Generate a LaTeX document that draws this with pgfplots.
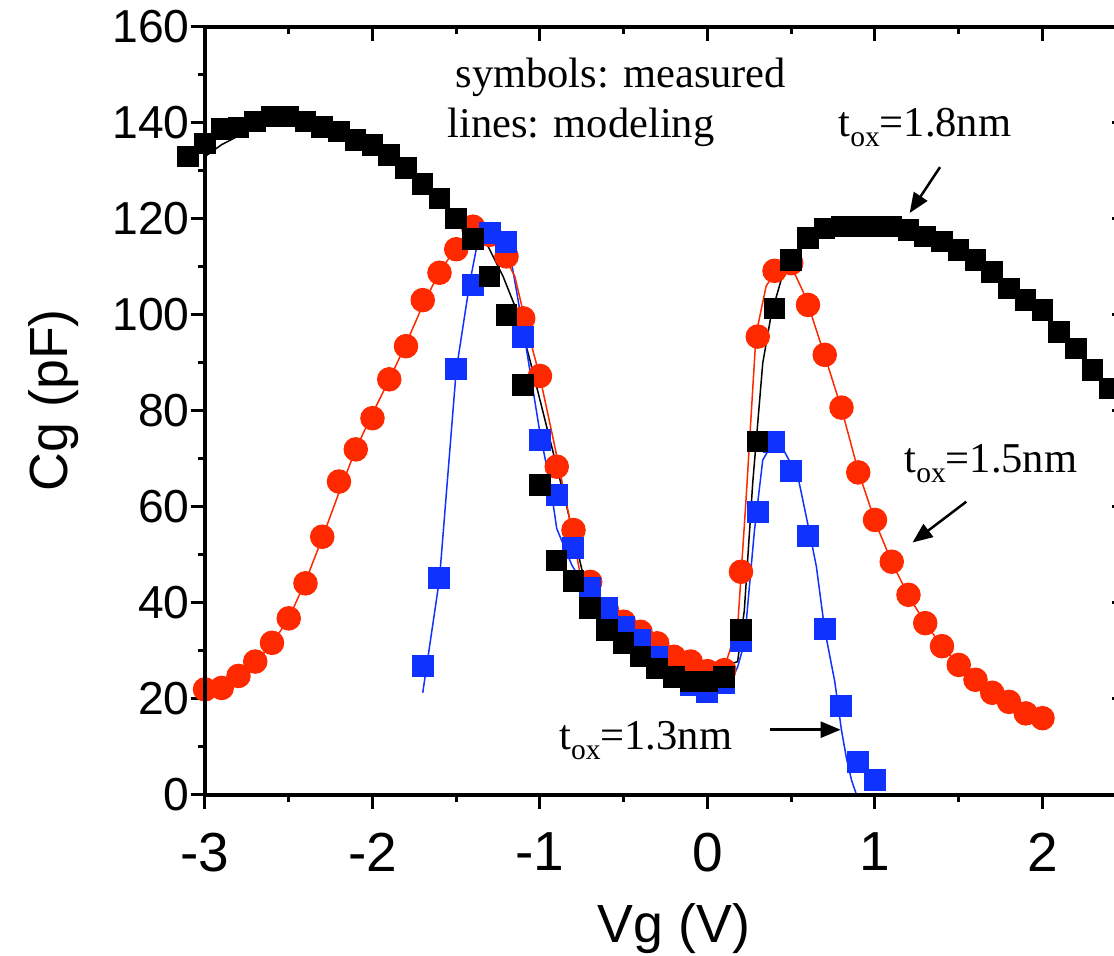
\documentclass[border=0pt]{standalone}
\usepackage{pgfplots}
\pgfplotsset{compat=1.18}
\usepackage{fontspec}
\setmainfont{Liberation Sans}
\newfontfamily\serif{Liberation Serif}
\usetikzlibrary{arrows.meta}
\definecolor{myred}{RGB}{255,41,0}
\definecolor{myblue}{RGB}{15,50,255}
\newcommand{\tox}{t\raisebox{-4pt}{\fontsize{11.8}{12}\selectfont ox}}
\begin{document}
\begin{tikzpicture}
\begin{axis}[
  scale only axis, width=368.5pt, height=307.2pt,
  xmin=-3, xmax=2.5, ymin=0, ymax=160,
  clip=false,
  xtick={-3,-2,-1,0,1,2}, xticklabels={-3,-2,-1,0,1,2},
  ytick={0,20,40,60,80,100,120,140,160},
  yticklabels={0,20,40,60,80,100,120,140,160},
  minor x tick num=1, minor y tick num=1,
  tick pos=left, tick align=outside,
  major tick length=5.6pt, minor tick length=2.8pt,
  tick style={black, line width=1.2pt},
  axis line style={line width=1.6pt},
  xticklabel style={font=\fontsize{22}{22}\selectfont, yshift=-6pt},
  yticklabel style={font=\fontsize{18.5}{18.5}\selectfont, xshift=3pt},
  xlabel={Vg (V)}, ylabel={Cg (pF)},
  label style={font=\fontsize{21.5}{22}\selectfont},
  xlabel style={at={(axis description cs:0.509,0)}, anchor=base, yshift=-59.2pt},
  ylabel style={at={(axis description cs:0,0.514)}, anchor=base, yshift=54.8pt},
]
\coordinate (BL) at (rel axis cs:0,0);
\coordinate (TL) at (rel axis cs:0,1);
% red circles (1.5 nm)
\addplot[only marks, mark=*, mark size=4.7pt, mark options={fill=myred, draw=myred}] coordinates {
(-3.0,22.0)(-2.9,22.3)(-2.8,24.8)(-2.7,27.8)(-2.6,31.7)(-2.5,36.8)(-2.4,44.1)(-2.3,53.8)(-2.2,65.3)(-2.1,72.0)
(-2.0,78.5)(-1.9,86.6)(-1.8,93.5)(-1.7,103.1)(-1.6,108.8)(-1.5,113.7)(-1.4,118.4)(-1.3,116.7)(-1.2,112.2)(-1.1,99.3)
(-1.0,87.3)(-0.9,68.4)(-0.8,55.2)(-0.7,44.4)(-0.6,38.5)(-0.5,36.1)(-0.4,34.0)(-0.3,31.6)(-0.2,28.8)(-0.1,27.8)
(0.0,25.8)(0.1,26.0)(0.2,46.5)(0.3,95.5)(0.4,109.2)(0.5,110.8)(0.6,102.1)(0.7,91.7)(0.8,80.7)(0.9,67.2)
(1.0,57.3)(1.1,48.6)(1.2,41.7)(1.3,35.8)(1.4,31.0)(1.5,27.1)(1.6,24.0)(1.7,21.3)(1.8,19.4)(1.9,17.0)(2.0,16.0)};
% blue squares (1.3 nm)
\addplot[only marks, mark=square*, mark size=4.2pt, mark options={fill=myblue, draw=myblue}] coordinates {
(-1.7,26.9)(-1.6,45.3)(-1.5,88.7)(-1.4,106.2)(-1.3,117.0)(-1.2,115.3)(-1.1,95.5)(-1.0,74.0)(-0.9,62.5)(-0.8,51.5)
(-0.7,43.2)(-0.6,39.0)(-0.5,35.0)(-0.4,32.3)(-0.3,28.8)(-0.2,24.6)(-0.1,22.9)(0.0,21.5)(0.1,23.3)(0.2,32.0)
(0.3,59.0)(0.4,73.6)(0.5,67.5)(0.6,53.9)(0.7,34.6)(0.8,18.6)(0.9,6.9)(1.0,3.1)};
% black squares (1.8 nm)
\addplot[only marks, mark=square*, mark size=4.1pt, mark options={fill=black, draw=black}] coordinates {
(-3.1,133.0)(-3.0,135.7)(-2.9,138.7)(-2.8,139.1)(-2.7,140.3)(-2.6,141.3)(-2.5,141.3)(-2.4,140.3)(-2.3,139.2)(-2.2,138.2)
(-2.1,136.5)(-2.0,135.4)(-1.9,133.3)(-1.8,130.6)(-1.7,127.3)(-1.6,124.3)(-1.5,120.1)(-1.4,115.8)(-1.3,108.0)(-1.2,100.0)
(-1.1,85.4)(-1.0,64.6)(-0.9,48.8)(-0.8,44.6)(-0.7,39.0)(-0.6,34.4)(-0.5,31.7)(-0.4,28.8)(-0.3,26.4)(-0.2,24.6)
(-0.1,23.6)(0.0,23.6)(0.1,24.6)(0.2,34.4)(0.3,73.6)(0.4,101.4)(0.5,111.5)(0.6,116.0)(0.7,118.0)(0.8,118.4)
(0.9,118.4)(1.0,118.4)(1.1,118.4)(1.2,117.7)(1.3,116.3)(1.4,115.3)(1.5,113.5)(1.6,111.5)(1.7,109.0)(1.8,105.5)
(1.9,103.1)(2.0,101.0)(2.1,96.5)(2.2,93.0)(2.3,88.5)(2.4,84.7)};
% model lines
\addplot[black, line width=0.6pt, no marks] coordinates {
(-3.0,133)(-2.9,135.5)(-2.8,137.3)(-2.7,139)(-2.6,140.3)(-2.5,141)(-2.4,140.5)(-2.3,139.5)(-2.2,138)(-2.1,136.5)
(-2.0,135)(-1.9,133)(-1.8,130.5)(-1.7,127.3)(-1.6,124)(-1.5,120.3)(-1.46,119.4)(-1.32,115)(-1.22,108)(-1.14,101)
(-1.06,90.6)(-0.98,79.5)(-0.9,68.4)(-0.84,60)(-0.725,43.4)(-0.61,37)(-0.45,32.5)(-0.29,29.5)(-0.1,26.7)(0.0,26)
(0.1,26.8)(0.18,27.8)(0.22,38.5)(0.27,65)(0.33,90)(0.38,100)(0.47,111)(0.55,113.5)(0.6,115.5)(0.7,117.5)
(0.8,118.2)(0.9,118.4)(1.0,118.4)(1.1,118)(1.2,117.3)(1.3,116)(1.4,114.8)(1.5,113.2)(1.6,111.2)(1.7,108.8)
(1.8,105.8)(1.9,103)(2.0,100.5)(2.1,96.5)(2.2,92.8)(2.3,88.5)(2.4,84.5)(2.5,80.5)};
\addplot[myblue, line width=0.6pt, no marks] coordinates {
(-1.70,21.3)(-1.6,45)(-1.5,88.5)(-1.42,106.6)(-1.37,115.6)(-1.32,117.8)(-1.26,116.3)(-1.18,112.8)(-1.14,105)(-1.08,92.7)
(-1.0,75.4)(-0.94,65)(-0.90,55.5)(-0.81,47.9)(-0.72,42.7)(-0.61,39.2)(-0.40,31.9)(-0.185,25)(0.0,22.6)(0.14,23.6)
(0.18,26.7)(0.22,31.6)(0.28,55)(0.33,69.8)(0.37,72.2)(0.46,71.5)(0.54,66.3)(0.61,54.6)(0.65,47.6)(0.70,34.4)
(0.76,23.6)(0.80,13.5)(0.83,7.6)(0.86,3.1)(0.89,0)};
\addplot[myred, line width=0.6pt, no marks] coordinates {
(-3.0,21.5)(-2.9,22.8)(-2.8,24.5)(-2.7,27.5)(-2.6,31.5)(-2.5,36.8)(-2.4,44.5)(-2.3,53.5)(-2.2,63)(-2.1,72)
(-2.0,79.5)(-1.9,86.5)(-1.8,94)(-1.7,102)(-1.6,109)(-1.5,114)(-1.4,118.3)(-1.3,116.3)(-1.25,114.8)(-1.15,108)
(-1.08,97.6)(-1.0,87)(-0.92,74)(-0.82,57)(-0.76,46)(-0.6,38)(-0.44,34.7)(-0.23,28.8)(-0.1,26.2)(0.0,25.2)
(0.09,25.5)(0.18,35)(0.23,61.5)(0.29,96)(0.35,106)(0.43,110.4)(0.49,110.9)(0.585,103.8)(0.7,91.5)(0.8,80.5)
(0.9,67.5)(1.0,57)(1.1,48.5)(1.2,41.5)(1.3,35.8)(1.4,31)(1.5,27)(1.6,24)(1.7,21.5)(1.8,19.3)(1.9,17.2)(2.0,15.8)};
% annotations
\begin{scope}[font=\serif\fontsize{17}{17}\selectfont]
\node[anchor=base west, inner sep=0] at (axis cs:-1.507,147.3) {symbols: measured};
\node[anchor=base west, inner sep=0] at (axis cs:-1.555,136.9) {lines: modeling};
\node[anchor=base west, inner sep=0] at (axis cs:0.779,137.1) {\tox=1.8nm};
\node[anchor=base west, inner sep=0] at (axis cs:1.173,67.1) {\tox=1.5nm};
\node[anchor=base west, inner sep=0] at (axis cs:-0.887,9.4) {\tox=1.3nm};
\end{scope}
\draw[line width=1pt, -{Triangle[length=8pt,width=6.4pt]}] (axis cs:1.388,130.8) -- (axis cs:1.207,121.25);
\draw[line width=1pt, -{Triangle[length=8pt,width=6.4pt]}] (axis cs:1.545,61.1) -- (axis cs:1.224,52.6);
\draw[line width=1pt, -{Triangle[length=8pt,width=6.4pt]}] (axis cs:0.373,13.6) -- (axis cs:0.795,13.6);
\end{axis}
\begin{axis}[
  scale only axis, width=368.5pt, height=307.2pt,
  xmin=-3, xmax=2.5, ymin=0, ymax=160,
  xtick={-3,-2,-1,0,1,2}, ytick={0,20,40,60,80,100,120,140,160},
  xticklabels={}, yticklabels={},
  minor x tick num=1, minor y tick num=1,
  tick pos=right, tick align=inside,
  major tick length=5.6pt, minor tick length=2.8pt,
  tick style={black, line width=1.2pt},
  axis line style={line width=1.6pt},
]
\end{axis}
\pgfresetboundingbox
\path[use as bounding box] ([shift={(-82pt,-64.4pt)}]BL) rectangle ([shift={(363.6pt,10.8pt)}]TL);
\end{tikzpicture}
\end{document}
